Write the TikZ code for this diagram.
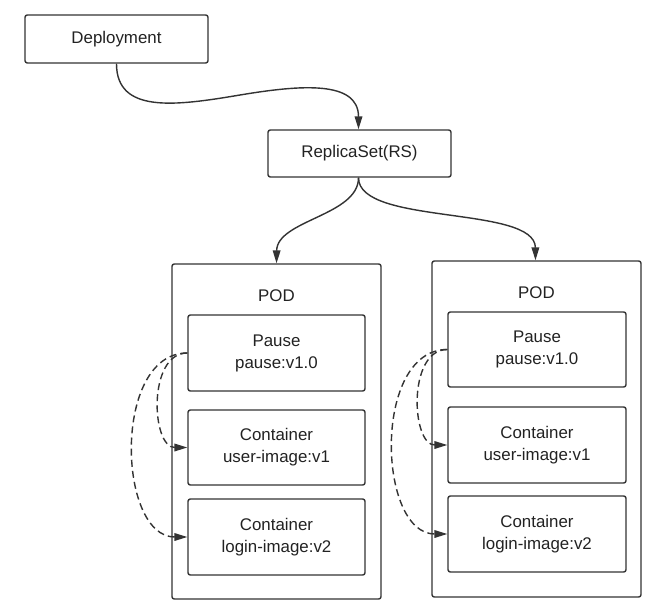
\documentclass[tikz,border=0pt]{standalone}
\usepackage{fontspec}
\setmainfont{Liberation Sans}
\usetikzlibrary{arrows.meta}
\definecolor{linegray}{HTML}{333333}
\definecolor{textgray}{HTML}{222222}

\begin{document}
\begin{tikzpicture}[x=0.03cm, y=-0.03cm, line width=1.2pt,
	box/.style={draw=linegray, rounded corners=2pt, align=center, inner sep=0pt,
		text=textgray, font=\fontsize{14.4}{18.8}\selectfont},
	podbox/.style={draw=linegray, rounded corners=2pt, inner sep=0pt},
	podtitle/.style={text=textgray, font=\fontsize{14.4}{18.8}\selectfont},
	arr/.style={draw=linegray, -{Triangle[length=11pt, width=6.5pt]}},
	dasharr/.style={draw=linegray, dash pattern=on 6pt off 3.5pt,
		-{Triangle[length=11pt, width=6.5pt]}}]

	\useasboundingbox (0,0) rectangle (655,601);

	% top of the tree
	\node (dep) at (116.5, 39.0) [box, minimum width=5.49cm, minimum height=1.44cm] {Deployment};
	\node (rs)  at (359.5,153.5) [box, minimum width=5.49cm, minimum height=1.41cm] {ReplicaSet(RS)};

	% left pod
	\node (podL) at (276.5,431.5) [podbox, minimum width=6.27cm, minimum height=10.05cm] {};
	\node (podLtitle) at (276.5,296.0) [podtitle] {POD};
	\node (pauseL) at (276.5,353.0) [box, minimum width=5.31cm, minimum height=2.28cm] {Pause\\pause:v1.0};
	\node (userL)  at (276.5,447.5) [box, minimum width=5.31cm, minimum height=2.25cm] {Container\\user-image:v1};
	\node (loginL) at (276.5,537.0) [box, minimum width=5.31cm, minimum height=2.28cm] {Container\\login-image:v2};

	% right pod
	\node (podR) at (536.5,429.0) [podbox, minimum width=6.27cm, minimum height=10.08cm] {};
	\node (podRtitle) at (536.5,293.0) [podtitle] {POD};
	\node (pauseR) at (537.0,349.5) [box, minimum width=5.34cm, minimum height=2.25cm] {Pause\\pause:v1.0};
	\node (userR)  at (537.0,445.0) [box, minimum width=5.34cm, minimum height=2.28cm] {Container\\user-image:v1};
	\node (loginR) at (537.0,534.0) [box, minimum width=5.34cm, minimum height=2.28cm] {Container\\login-image:v2};

	% solid links
	\draw[arr] (dep.south) .. controls +(0,50) and (175,106) .. (240,95)
		.. controls (300,85) and (358.5,80) .. ([xshift=-0.03cm]rs.north);
	\draw[arr] ([xshift=-0.03cm]rs.south) .. controls +(0,38) and (277,220) .. (podL.north);
	\draw[arr] ([xshift=-0.03cm]rs.south) .. controls +(0,48) and (535,205) .. ([xshift=-0.03cm]podR.north);

	% dashed links inside the pods
	\draw[dasharr] (pauseL.west) .. controls +(-40,0) and +(-36,0) .. (userL.west);
	\draw[dasharr] (pauseL.west) .. controls +(-75,0) and +(-70,0) .. (loginL.west);
	\draw[dasharr] (pauseR.west) .. controls +(-40,0) and +(-36,0) .. (userR.west);
	\draw[dasharr] (pauseR.west) .. controls +(-75,0) and +(-70,0) .. (loginR.west);
\end{tikzpicture}
\end{document}
